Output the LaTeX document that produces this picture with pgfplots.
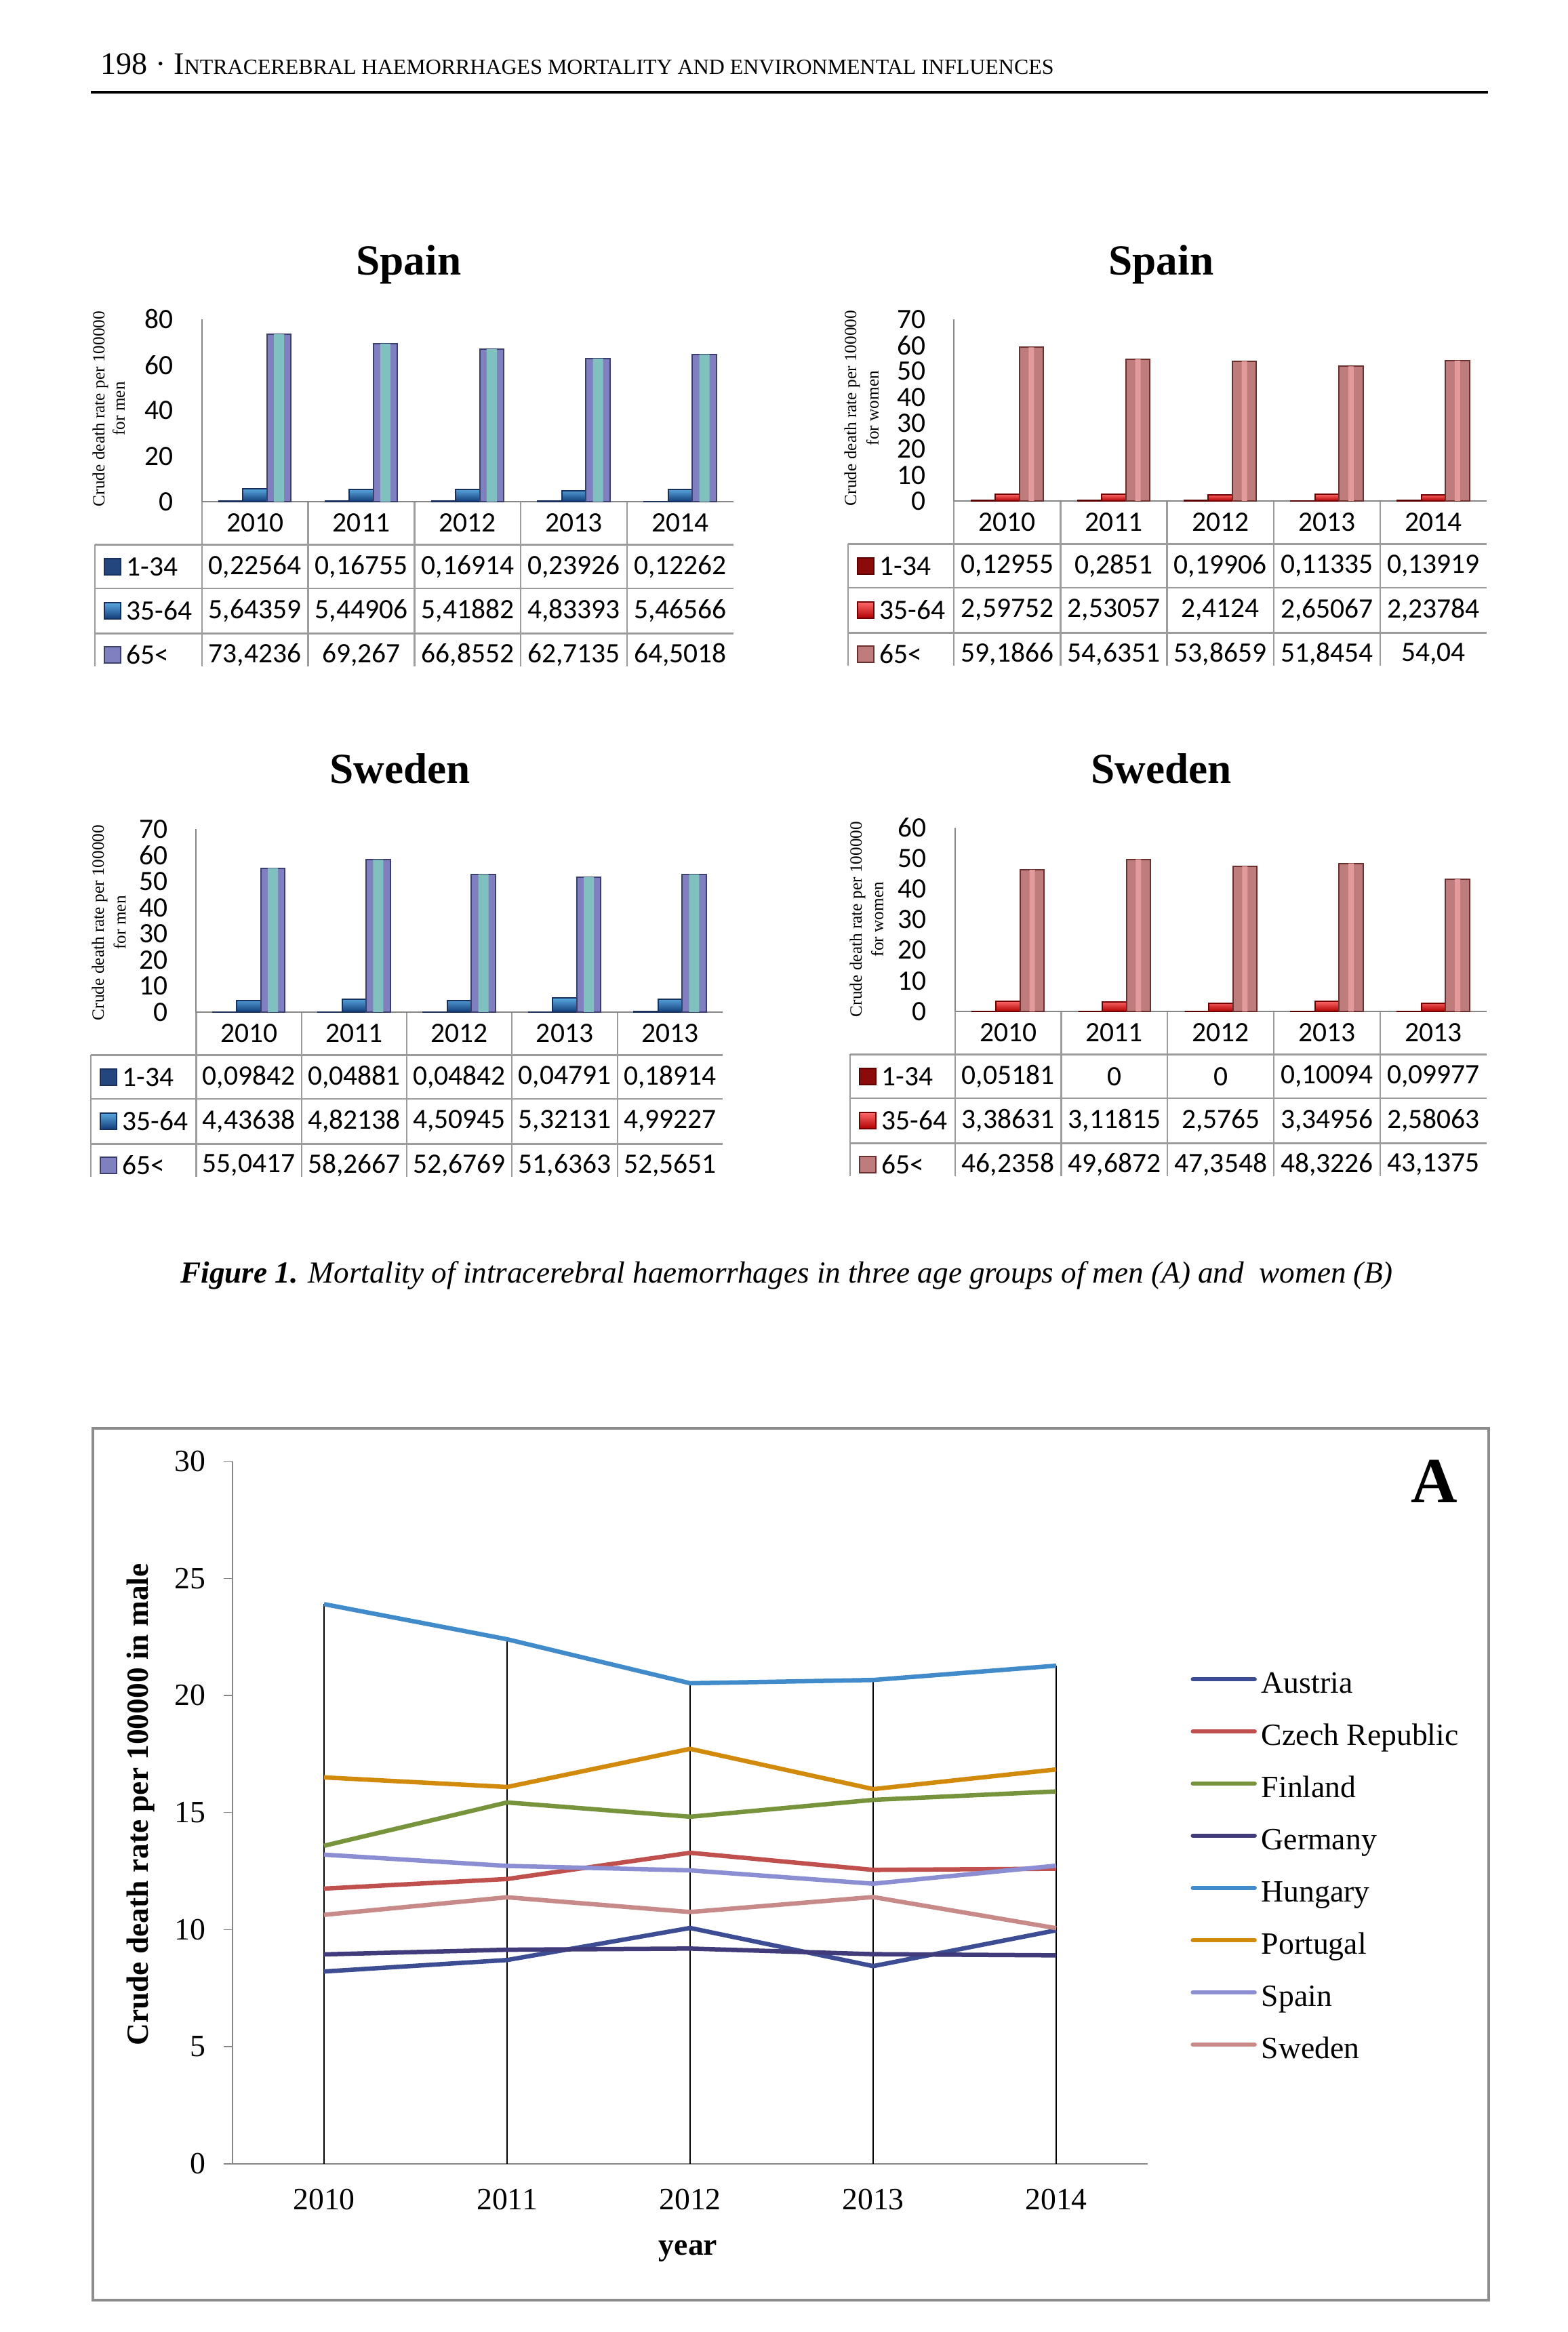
\documentclass[border=0pt]{standalone}
\usepackage{pgfplots}
\pgfplotsset{compat=1.18}
\usepackage{pgfplotstable}
\usepackage{graphicx}
\usepackage{fontspec}
\setmainfont{Liberation Serif}
\newfontfamily\carlito{Carlito}

\definecolor{axgray}{HTML}{868686}
\definecolor{tgray}{HTML}{9C9C9C}
\definecolor{frgray}{HTML}{8C8C8C}
\definecolor{mA}{HTML}{23467F}\definecolor{mAo}{HTML}{1A2F5A}
\definecolor{mBt}{HTML}{5AA8E0}\definecolor{mBb}{HTML}{123C78}\definecolor{mBo}{HTML}{16305E}
\definecolor{mCe}{HTML}{8080C0}\definecolor{mCm}{HTML}{80C0BE}\definecolor{mCo}{HTML}{3A3F6E}
\definecolor{wA}{HTML}{8B0A0A}\definecolor{wAo}{HTML}{5A0000}
\definecolor{wBt}{HTML}{FF6A6A}\definecolor{wBb}{HTML}{B00000}\definecolor{wBo}{HTML}{700000}
\definecolor{wCe}{HTML}{BF7C7C}\definecolor{wCm}{HTML}{E39A9A}\definecolor{wCo}{HTML}{6A3030}
\definecolor{cAu}{HTML}{3D4D94}
\definecolor{cCz}{HTML}{C0504D}
\definecolor{cFi}{HTML}{77933C}
\definecolor{cDe}{HTML}{403C7C}
\definecolor{cHu}{HTML}{428BCA}
\definecolor{cPt}{HTML}{D28A0C}
\definecolor{cEs}{HTML}{8C8ED4}
\definecolor{cSe}{HTML}{C78A89}

\pgfkeys{/pgf/number format/assume math mode=true}

\def\tabfont{\carlito\fontsize{11.8}{14}\selectfont}
\def\titlefont{\bfseries\fontsize{18}{20}\selectfont}
\def\ylabfont{\fontsize{7.2}{8}\selectfont}

\tikzset{
 menA/.style={draw=mAo, fill=mA},
 menB/.style={draw=mBo, top color=mBt, bottom color=mBb},
 menC/.style={draw=mCo, fill=mCe},
 menCh/.style={draw=none, fill=mCm},
 womA/.style={draw=wAo, fill=wA},
 womB/.style={draw=wBo, top color=wBt, bottom color=wBb},
 womC/.style={draw=wCo, fill=wCe},
 womCh/.style={draw=none, fill=wCm},
}
\pgfplotsset{
 labelrow/.style={draw=none, mark=none, forget plot, point meta=explicit,
   nodes near coords={\pgfmathprintnumber[fixed,precision=5,use comma]{\pgfplotspointmeta}},
   nodes near coords align=center,
   every node near coord/.append style={yshift=#1, font=\tabfont, inner sep=0pt, text=black}},
}

% ---- data: bar charts (x = category index 0..4; a = 1-34, b = 35-64, c = 65<)
\pgfplotstableread{
x a b c
0 0.22564 5.64359 73.4236
1 0.16755 5.44906 69.267
2 0.16914 5.41882 66.8552
3 0.23926 4.83393 62.7135
4 0.12262 5.46566 64.5018
}\dataSpainMen
\pgfplotstableread{
x a b c
0 0.12955 2.59752 59.1866
1 0.2851 2.53057 54.6351
2 0.19906 2.4124 53.8659
3 0.11335 2.65067 51.8454
4 0.13919 2.23784 54.04
}\dataSpainWomen
\pgfplotstableread{
x a b c
0 0.09842 4.43638 55.0417
1 0.04881 4.82138 58.2667
2 0.04842 4.50945 52.6769
3 0.04791 5.32131 51.6363
4 0.18914 4.99227 52.5651
}\dataSwedenMen
\pgfplotstableread{
x a b c
0 0.05181 3.38631 46.2358
1 0 3.11815 49.6872
2 0 2.5765 47.3548
3 0.10094 3.34956 48.3226
4 0.09977 2.58063 43.1375
}\dataSwedenWomen
% ---- data: line chart (men)
\pgfplotstableread{
year au cz fi de hu pt es se
2010 8.21 11.75 13.58 8.94 23.90 16.50 13.20 10.63
2011 8.70 12.16 15.43 9.14 22.40 16.09 12.72 11.38
2012 10.07 13.28 14.82 9.19 20.52 17.72 12.53 10.75
2013 8.44 12.55 15.54 8.95 20.66 16.00 11.96 11.39
2014 9.97 12.60 15.90 8.90 21.27 16.84 12.73 10.06
}\lineData

\newcommand\drawchart[1]{%
\begin{scope}[x=1mm,y=1mm]
 \draw[tgray, line width=0.22mm] (\cL,\cY-6.35) -- (\cR,\cY-6.35)
   (\cL,\cY-12.8) -- (\cR,\cY-12.8)
   (\cL,\cY-19.45) -- (\cR,\cY-19.45)
   (\cL,\cY-6.35) -- (\cL,\cY-24.35);
 \foreach \k in {0,1,2,3,4}{\draw[tgray, line width=0.22mm] ({\cA+\k*(\cR-\cA)/5},\cY) -- ({\cA+\k*(\cR-\cA)/5},\cY-24.35);}
 \path[serA, line width=0.15mm] (\cL+1.42,\cY-10.8) rectangle (\cL+3.78,\cY-8.4);
 \path[serB, line width=0.15mm] (\cL+1.42,\cY-17.3) rectangle (\cL+3.78,\cY-14.9);
 \path[serC, line width=0.15mm] (\cL+1.42,\cY-23.8) rectangle (\cL+3.78,\cY-21.4);
 \node[anchor=west, inner sep=0pt, font=\tabfont] at (\cL+4.6,\cY-9.6) {1-34};
 \node[anchor=west, inner sep=0pt, font=\tabfont] at (\cL+4.6,\cY-16.1) {35-64};
 \node[anchor=west, inner sep=0pt, font=\tabfont] at (\cL+4.6,\cY-22.6) {65<};
 \node[anchor=base, inner sep=0pt, font=\titlefont] at (\cTX,\cTY) {\cTitle};
 \node[rotate=90, inner sep=0pt, font=\ylabfont] at (\cLXa,\cLY) {Crude death rate per 100000};
 \node[rotate=90, inner sep=0pt, font=\ylabfont] at (\cLXb,\cLY) {\cLab};
\end{scope}
\begin{axis}[
  at={({\cA*1mm},{\cY*1mm})}, anchor=south west,
  scale only axis, width=\cW, height=\cH,
  xmin=-0.5, xmax=4.5, ymin=0, ymax=\cYmax,
  xtick={0,1,2,3,4}, xticklabels/.expand once=\cYears,
  ytick={0,\cYstep,...,\cYmax},
  axis x line*=bottom, axis y line*=left,
  axis line style={-, draw=axgray, line width=0.2mm},
  major tick length=0pt,
  tick label style={font=\tabfont, text=black},
  xticklabel style={anchor=center, yshift=-3.15mm, inner sep=0pt},
  yticklabel style={anchor=east, inner sep=0pt, xshift=-4.1mm},
  clip=false,
]
\addplot[ybar, bar width=3.55mm, bar shift=-3.55mm, serA, line width=0.2mm] table[x=x,y=a]{#1};
\addplot[ybar, bar width=3.55mm, bar shift=0mm, serB, line width=0.2mm] table[x=x,y=b]{#1};
\addplot[ybar, bar width=3.55mm, bar shift=3.55mm, serC, line width=0.2mm] table[x=x,y=c]{#1};
\addplot[ybar, bar width=\cHw, bar shift=3.55mm, serCh, forget plot] table[x=x,y=c]{#1};
\addplot[labelrow={-9.6mm}] table[x=x, y expr=0, meta=a]{#1};
\addplot[labelrow={-16.1mm}] table[x=x, y expr=0, meta=b]{#1};
\addplot[labelrow={-22.6mm}] table[x=x, y expr=0, meta=c]{#1};
\end{axis}}

\begin{document}
\begin{tikzpicture}
\fill[white] (0,0) rectangle (231.3mm,344mm);
\path[use as bounding box] (0,0) rectangle (231.3mm,344mm);

% header
\node[anchor=base west, inner sep=0pt] at (14.8mm,333.0mm) {\resizebox{140.6mm}{!}{\fontsize{13}{15}\selectfont 198 · I{\fontsize{9}{11}\selectfont NTRACEREBRAL HAEMORRHAGES MORTALITY AND ENVIRONMENTAL INFLUENCES}}};
\draw[black, line width=0.42mm] (13.4mm,330.4mm) -- (219.45mm,330.4mm);

% top-left: Spain, men
\def\cL{14.0}\def\cA{29.77}\def\cR{108.2}\def\cW{78.43mm}\def\cY{270.0}\def\cH{26.9mm}
\def\cYmax{80}\def\cYstep{20}\def\cYears{2010,2011,2012,2013,2014}
\def\cTitle{Spain}\def\cTX{60.3}\def\cTY{303.45}\def\cLab{for men}\def\cLXa{14.8}\def\cLXb{17.5}\def\cLY{283.7}
\def\cHw{1.5mm}
\tikzset{serA/.style={menA}, serB/.style={menB}, serC/.style={menC}, serCh/.style={menCh}}
\drawchart{\dataSpainMen}

% top-right: Spain, women
\def\cL{125.1}\def\cA{140.73}\def\cR{219.3}\def\cW{78.57mm}\def\cY{270.1}\def\cH{26.8mm}
\def\cYmax{70}\def\cYstep{10}\def\cYears{2010,2011,2012,2013,2014}
\def\cTitle{Spain}\def\cTX{171.3}\def\cTY{303.45}\def\cLab{for women}\def\cLXa{125.7}\def\cLXb{128.7}\def\cLY{283.8}
\def\cHw{0.8mm}
\tikzset{serA/.style={womA}, serB/.style={womB}, serC/.style={womC}, serCh/.style={womCh}}
\drawchart{\dataSpainWomen}

% bottom-left: Sweden, men
\def\cL{13.4}\def\cA{28.94}\def\cR{106.6}\def\cW{77.66mm}\def\cY{194.7}\def\cH{27.0mm}
\def\cYmax{70}\def\cYstep{10}\def\cYears{2010,2011,2012,2013,2013}
\def\cTitle{Sweden}\def\cTX{59.0}\def\cTY{228.45}\def\cLab{for men}\def\cLXa{14.7}\def\cLXb{17.65}\def\cLY{207.9}
\def\cHw{1.5mm}
\tikzset{serA/.style={menA}, serB/.style={menB}, serC/.style={menC}, serCh/.style={menCh}}
\drawchart{\dataSwedenMen}

% bottom-right: Sweden, women
\def\cL{125.4}\def\cA{140.86}\def\cR{219.3}\def\cW{78.44mm}\def\cY{194.8}\def\cH{27.1mm}
\def\cYmax{60}\def\cYstep{10}\def\cYears{2010,2011,2012,2013,2013}
\def\cTitle{Sweden}\def\cTX{171.3}\def\cTY{228.4}\def\cLab{for women}\def\cLXa{126.5}\def\cLXb{129.4}\def\cLY{208.4}
\def\cHw{0.8mm}
\tikzset{serA/.style={womA}, serB/.style={womB}, serC/.style={womC}, serCh/.style={womCh}}
\drawchart{\dataSwedenWomen}

% caption
\node[anchor=base, inner sep=0pt] at (116.06mm,154.7mm) {\resizebox{178.8mm}{!}{\fontsize{13}{15}\selectfont\itshape\textbf{Figure 1.} Mortality of intracerebral haemorrhages in three age groups of men (A) and\ \ women (B)}};

% line chart frame
\draw[frgray, line width=0.35mm] (13.7mm,4.7mm) rectangle (219.6mm,133.3mm);

\begin{axis}[
 at={(34.3mm,24.82mm)}, anchor=south west, scale only axis,
 width=135mm, height=103.62mm,
 xmin=2009.5, xmax=2014.5, ymin=0, ymax=30,
 xtick={2010,2011,2012,2013,2014}, xticklabels={2010,2011,2012,2013,2014},
 ytick={0,5,10,15,20,25,30},
 axis x line*=bottom, axis y line*=left,
 x axis line style={-, draw=axgray, line width=0.25mm},
 y axis line style={-, draw=axgray, line width=0.15mm},
 major tick length=1.26mm,
 xtick style={draw=none},
 ytick style={draw=axgray, line width=0.15mm, xshift=-1.26mm},
 tick label style={font=\fontsize{13}{15}\selectfont, text=black},
 xticklabel style={anchor=center, yshift=-5.27mm, inner sep=0pt},
 yticklabel style={anchor=east, inner sep=0pt, xshift=-3.92mm},
 clip=false,
 legend style={at={(1.047,0.7013)}, anchor=north west, draw=none, fill=none,
   inner sep=0pt, outer sep=0pt, row sep=3.5mm, column sep=0.7mm,
   font=\fontsize{13}{15}\selectfont,
   nodes={inner sep=0pt, text height=3.2mm, text depth=1.0mm}},
 legend cell align=left,
 legend image code/.code={\draw[#1, line cap=round] (0mm,0.9mm) -- (9.1mm,0.9mm);},
]
\addplot[ycomb, black, line width=0.22mm, forget plot] table[x=year,y=hu]{\lineData};
\addplot[color=cAu, line width=0.65mm, line join=round] table[x=year,y=au]{\lineData}; \addlegendentry{Austria}
\addplot[color=cCz, line width=0.65mm, line join=round] table[x=year,y=cz]{\lineData}; \addlegendentry{Czech Republic}
\addplot[color=cFi, line width=0.65mm, line join=round] table[x=year,y=fi]{\lineData}; \addlegendentry{Finland}
\addplot[color=cDe, line width=0.65mm, line join=round] table[x=year,y=de]{\lineData}; \addlegendentry{Germany}
\addplot[color=cHu, line width=0.65mm, line join=round] table[x=year,y=hu]{\lineData}; \addlegendentry{Hungary}
\addplot[color=cPt, line width=0.65mm, line join=round] table[x=year,y=pt]{\lineData}; \addlegendentry{Portugal}
\addplot[color=cEs, line width=0.65mm, line join=round] table[x=year,y=es]{\lineData}; \addlegendentry{Spain}
\addplot[color=cSe, line width=0.65mm, line join=round] table[x=year,y=se]{\lineData}; \addlegendentry{Sweden}
\end{axis}

\node[rotate=90, inner sep=0pt] at (20.77mm,77.8mm) {\resizebox{71.1mm}{!}{\bfseries\fontsize{13}{15}\selectfont Crude death rate per 100000 in male}};
\node[anchor=base, inner sep=0pt, font=\bfseries\fontsize{13}{15}\selectfont] at (101.5mm,11.3mm) {year};
\node[anchor=base, inner sep=0pt, font=\bfseries\fontsize{27}{30}\selectfont] at (211.6mm,122.3mm) {A};
\end{tikzpicture}
\end{document}
